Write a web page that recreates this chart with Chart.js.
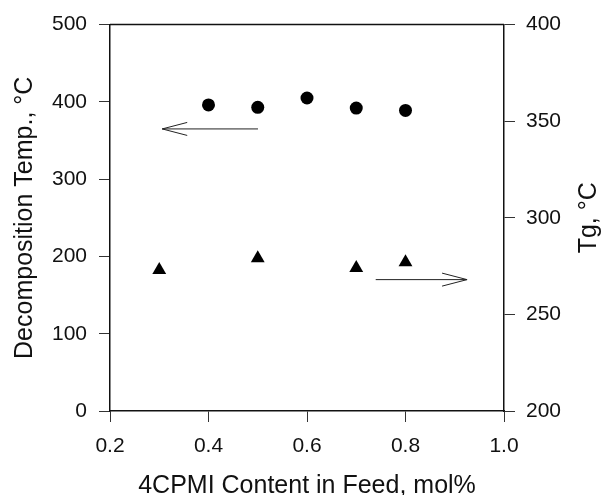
<!DOCTYPE html>
<html lang="en">
<head>
    <meta charset="UTF-8">
    <title>Decomposition Temp. and Tg vs 4CPMI Content</title>
    <script src="https://cdn.jsdelivr.net/npm/chart.js"></script>
    <style>
        html, body {
            margin: 0;
            padding: 0;
            background: #fff;
        }
        #wrap {
            width: 603px;
            height: 495px;
        }
    </style>
</head>
<body>
    <div id="wrap"><canvas id="tempChart"></canvas></div>

    <script>
        // Decomposition temperature (left axis)
        const feedDecomp = [0.4, 0.5, 0.6, 0.7, 0.8];
        const decompTemp = [396, 393, 405, 392, 389];

        // Glass transition temperature (right axis)
        const feedTg = [0.3, 0.5, 0.7, 0.8];
        const tgTemp = [273, 279, 274, 277];

        // Axis ranges and tick steps
        const xTicks = [0.2, 0.4, 0.6, 0.8, 1.0];
        const leftTicks = [0, 100, 200, 300, 400, 500];
        const rightTicks = [200, 250, 300, 350, 400];

        // Arrows pointing each series to its axis: [x from, x to, y value, axis]
        const arrows = [
            [0.5005, 0.306, 365, 'y'],
            [0.7395, 0.925, 268, 'y2']
        ];

        const ink = '#111';
        const fontFamily = '"Liberation Sans", Arial, sans-serif';
        const tickFont = { family: fontFamily, size: 21 };
        const titleFont = { family: fontFamily, size: 25 };

        function toPoints(xs, ys) {
            return xs.map((x, i) => ({ x: x, y: ys[i] }));
        }

        // top edge of the frame, the two arrows and the right axis title
        // (which reads bottom-to-top like the left one)
        const frameAndArrows = {
            id: 'frameAndArrows',
            afterDatasetsDraw(chart) {
                const ctx = chart.ctx;
                const a = chart.chartArea;
                const sx = chart.scales.x;

                ctx.save();
                ctx.strokeStyle = ink;
                ctx.lineWidth = 1.5;
                ctx.beginPath();
                ctx.moveTo(a.left, a.top);
                ctx.lineTo(a.right, a.top);
                ctx.stroke();

                ctx.lineWidth = 1;
                ctx.strokeStyle = '#222';
                arrows.forEach(([x0, x1, yv, axis]) => {
                    const px0 = sx.getPixelForValue(x0);
                    const px1 = sx.getPixelForValue(x1);
                    const py = chart.scales[axis].getPixelForValue(yv);
                    const dir = px1 > px0 ? -1 : 1;
                    ctx.beginPath();
                    ctx.moveTo(px0, py);
                    ctx.lineTo(px1, py);
                    ctx.moveTo(px1 + dir * 25, py - 6.5);
                    ctx.lineTo(px1, py);
                    ctx.lineTo(px1 + dir * 25, py + 6.5);
                    ctx.stroke();
                });

                ctx.translate(589, (a.top + a.bottom) / 2);
                ctx.rotate(-Math.PI / 2);
                ctx.fillStyle = ink;
                ctx.font = titleFont.size + 'px ' + fontFamily;
                ctx.textAlign = 'center';
                ctx.textBaseline = 'middle';
                ctx.fillText('Tg, °C', 0, 0);
                ctx.restore();
            }
        };

        const axisGrid = {
            display: true,
            drawOnChartArea: false,
            drawTicks: true,
            tickLength: 11,
            color: '#333',
            lineWidth: 1
        };
        const axisBorder = { display: true, color: ink, width: 1.5 };

        Chart.defaults.color = ink;

        new Chart(document.getElementById('tempChart'), {
            type: 'scatter',
            data: {
                datasets: [
                    {
                        label: 'Decomposition Temp.',
                        data: toPoints(feedDecomp, decompTemp),
                        yAxisID: 'y',
                        pointStyle: 'circle',
                        pointRadius: 6.5,
                        backgroundColor: '#000',
                        borderColor: '#000',
                        borderWidth: 0
                    },
                    {
                        label: 'Tg',
                        data: toPoints(feedTg, tgTemp),
                        yAxisID: 'y2',
                        pointStyle: 'triangle',
                        pointRadius: 8,
                        backgroundColor: '#000',
                        borderColor: '#000',
                        borderWidth: 0
                    }
                ]
            },
            options: {
                responsive: true,
                maintainAspectRatio: false,
                animation: false,
                layout: { padding: { top: 22, left: 0, right: 0, bottom: 0 }, autoPadding: false },
                plugins: {
                    legend: { display: false },
                    tooltip: { enabled: false }
                },
                scales: {
                    x: {
                        type: 'linear',
                        min: xTicks[0],
                        max: xTicks[xTicks.length - 1],
                        afterBuildTicks: s => { s.ticks = xTicks.map(v => ({ value: v })); },
                        afterFit: s => { s.height = 84; },
                        grid: axisGrid,
                        border: axisBorder,
                        ticks: {
                            font: tickFont,
                            padding: 12,
                            maxRotation: 0,
                            callback: v => v.toFixed(1)
                        },
                        title: {
                            display: true,
                            text: '4CPMI Content in Feed, mol%',
                            font: titleFont,
                            padding: { top: 0, bottom: -6 }
                        }
                    },
                    y: {
                        position: 'left',
                        min: leftTicks[0],
                        max: leftTicks[leftTicks.length - 1],
                        afterBuildTicks: s => { s.ticks = leftTicks.map(v => ({ value: v })); },
                        afterFit: s => { s.width = 110; },
                        grid: axisGrid,
                        border: axisBorder,
                        ticks: { font: tickFont, padding: 12 },
                        title: {
                            display: true,
                            text: 'Decomposition Temp., °C',
                            font: titleFont,
                            padding: { top: 10, bottom: 0 }
                        }
                    },
                    y2: {
                        position: 'right',
                        min: rightTicks[0],
                        max: rightTicks[rightTicks.length - 1],
                        afterBuildTicks: s => { s.ticks = rightTicks.map(v => ({ value: v })); },
                        afterFit: s => { s.width = 99; },
                        grid: axisGrid,
                        border: axisBorder,
                        ticks: { font: tickFont, padding: 11 },
                        title: { display: false }
                    }
                }
            },
            plugins: [frameAndArrows]
        });
    </script>
</body>
</html>
